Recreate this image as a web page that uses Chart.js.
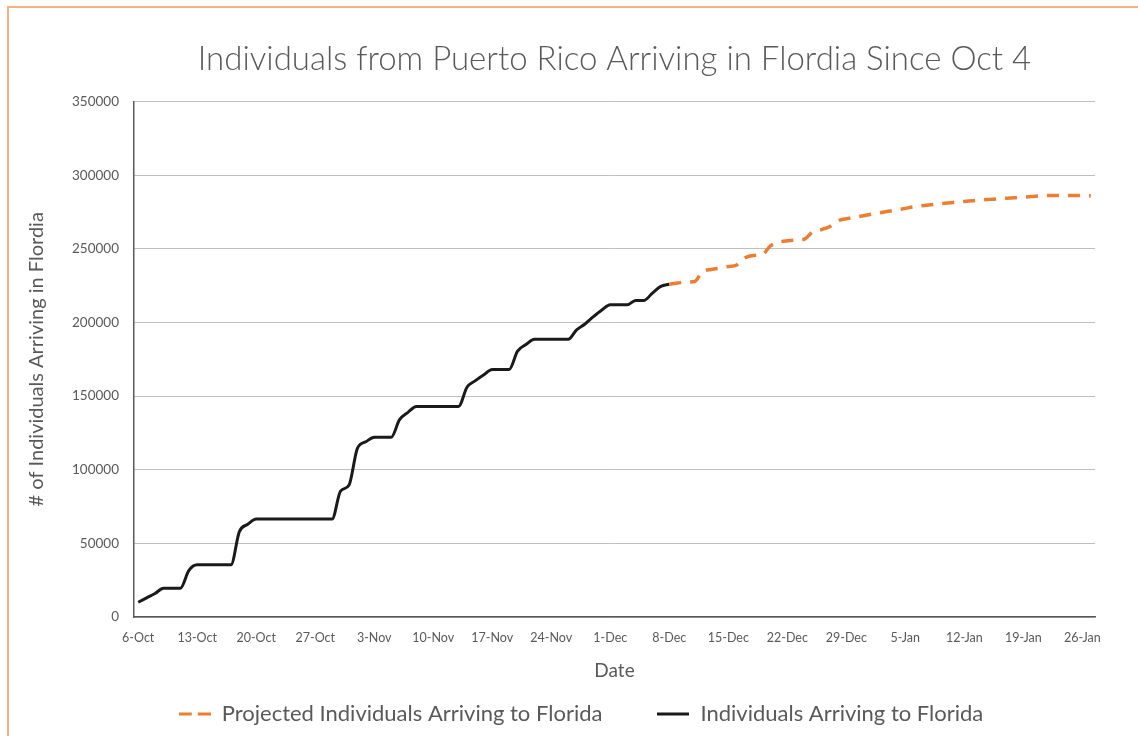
<!DOCTYPE html>
<html>
<head>
<meta charset="utf-8">
<script src="https://cdn.jsdelivr.net/npm/chart.js@4/dist/chart.umd.min.js"></script>
<style>
  html, body { margin: 0; padding: 0; background: #fff; }
  #wrap { position: relative; width: 1138px; height: 736px; overflow: hidden; }
  #frame { position: absolute; left: 7px; top: 6px; width: 1200px; height: 800px; border-left: 2px solid #f4b183; border-top: 2px solid #f4b183; }
  canvas { position: absolute; left: 0; top: 0; }
</style>
</head>
<body>
<div id="wrap">
  <div id="frame"></div>
  <canvas id="chart" width="1138" height="736"></canvas>
</div>
<script>
// one category per day, 6-Oct .. 27-Jan
const months = ['Jan', 'Feb', 'Mar', 'Apr', 'May', 'Jun', 'Jul', 'Aug', 'Sep', 'Oct', 'Nov', 'Dec'];
const startDate = new Date(2017, 9, 6);
const dayCount = 114;
const dates = [];
for (let i = 0; i < dayCount; i++) {
    const d = new Date(startDate.getFullYear(), startDate.getMonth(), startDate.getDate() + i);
    dates.push(d.getDate() + '-' + months[d.getMonth()]);
}

const actual = [
    10000, 13000, 16000, 19500, 19500, 19500, 31500, 35400, 35400, 35400,
    35400, 35400, 58000, 63000, 66500, 66500, 66500, 66500, 66500, 66500,
    66500, 66500, 66500, 66500, 85500, 89500, 114500, 119000, 122000, 122000,
    122000, 134000, 139000, 143000, 143000, 143000, 143000, 143000, 143000, 156000,
    160500, 164500, 168000, 168000, 168000, 180500, 185000, 188600, 188600, 188600,
    188600, 188600, 195000, 199000, 204000, 208500, 212000, 212000, 212000, 215000,
    215000, 220000, 224500, 226000
];

// projection, days 63..113
const projected = [
    226000, 226800, 227500, 227800, 235000, 236000, 237000, 238000, 239000, 244000,
    245500, 246000, 252000, 254500, 255500, 256000, 256500, 261500, 263000, 265000,
    269000, 270500, 271500, 272500, 273500, 274500, 275500, 276500, 277500, 278500,
    279300, 280000, 280600, 281200, 281700, 282200, 282700, 283200, 283600, 284000,
    284400, 284700, 285100, 285500, 286000, 286200, 286200, 286200, 286200, 286200,
    286000
];
const projectedStart = 63;

const actualData = dates.map((d, i) => i < actual.length ? actual[i] : null);
const projectedData = dates.map((d, i) => i >= projectedStart ? projected[i - projectedStart] : null);

const grey = '#595959';
const fontFamily = 'Lato, "Open Sans", sans-serif';

// small legend swatches (the built-in 'line' style can't show a dash)
function swatch(color, dash) {
    const c = document.createElement('canvas');
    c.width = 32;
    c.height = 4;
    const ctx = c.getContext('2d');
    ctx.strokeStyle = color;
    ctx.lineWidth = 3;
    ctx.setLineDash(dash);
    ctx.beginPath();
    ctx.moveTo(0, 2);
    ctx.lineTo(32, 2);
    ctx.stroke();
    return c;
}

// nudge the legend so its centre sits where the original one was
const legendShift = {
    id: 'legendShift',
    afterLayout(chart) {
        const lg = chart.legend;
        const shift = 581 - (lg.left + lg.right) / 2;
        lg.left += shift;
        lg.right += shift;
    }
};

new Chart(document.getElementById('chart'), {
    type: 'line',
    data: {
        labels: dates,
        datasets: [
            {
                // en spaces keep the gap before the second legend entry
                label: 'Projected Individuals Arriving to Florida\u2002\u2002\u2002\u2002',
                data: projectedData,
                borderColor: '#ed7d31',
                backgroundColor: '#ed7d31',
                borderWidth: 3.5,
                borderDash: [12, 9],
                pointRadius: 0,
                pointStyle: swatch('#ed7d31', [13, 6]),
                cubicInterpolationMode: 'monotone',
                spanGaps: false
            },
            {
                label: 'Individuals Arriving to Florida',
                data: actualData,
                borderColor: '#1a1a1a',
                backgroundColor: '#1a1a1a',
                borderWidth: 3,
                pointRadius: 0,
                pointStyle: swatch('#1a1a1a', []),
                cubicInterpolationMode: 'monotone',
                spanGaps: false
            }
        ]
    },
    plugins: [legendShift],
    options: {
        responsive: false,
        animation: false,
        layout: { padding: { left: 8, right: 43, top: 0, bottom: 1 } },
        plugins: {
            title: {
                display: true,
                fullSize: false,
                text: 'Individuals from Puerto Rico Arriving in Flordia Since Oct 4',
                color: grey,
                font: { family: fontFamily, size: 33, weight: '300' },
                padding: { top: 40, bottom: 22 }
            },
            legend: {
                position: 'bottom',
                labels: {
                    color: grey,
                    font: { family: fontFamily, size: 22 },
                    usePointStyle: true,
                    pointStyleWidth: 32,
                    padding: 11
                }
            },
            tooltip: { enabled: false }
        },
        scales: {
            x: {
                offset: true,
                grid: { display: false, drawTicks: false },
                border: { display: true, color: '#595959', width: 1.5 },
                ticks: {
                    autoSkip: false,
                    maxRotation: 0,
                    color: grey,
                    padding: 13,
                    font: { family: fontFamily, size: 12.5 },
                    callback: function (value, index) {
                        return index % 7 === 0 ? dates[index] : null;
                    }
                },
                title: {
                    display: true,
                    text: 'Date',
                    color: grey,
                    font: { family: fontFamily, size: 19 },
                    padding: { top: 0, bottom: 10 }
                },
                afterFit: function (scale) { scale.height = 75; }
            },
            y: {
                min: 0,
                max: 350000,
                grid: { color: '#bfbfbf', lineWidth: 1, drawTicks: false },
                border: { display: true, color: '#595959', width: 1.5 },
                ticks: {
                    stepSize: 50000,
                    color: grey,
                    padding: 15,
                    font: { family: fontFamily, size: 13.5 },
                    callback: function (value) { return String(value); }
                },
                title: {
                    display: true,
                    text: '# of Individuals Arriving in Flordia',
                    color: grey,
                    font: { family: fontFamily, size: 20 },
                    padding: { top: 17, bottom: 0 }
                },
                afterFit: function (scale) { scale.width = 126; }
            }
        }
    }
});
</script>
</body>
</html>
